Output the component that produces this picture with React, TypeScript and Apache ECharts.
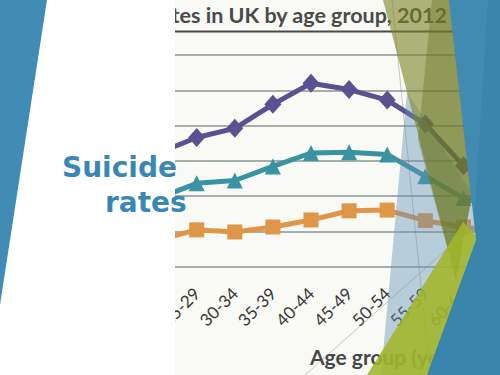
import React, { useEffect, useRef } from "react";
import * as echarts from "echarts";

const categories = ["20-24", "25-29", "30-34", "35-39", "40-44", "45-49", "50-54", "55-59", "60-64", "65-69", "70-74"];
const males = [16.1, 18.3, 19.6, 23.0, 26.0, 25.1, 23.6, 20.2, 14.3, 11.5, 11.0];
const persons = [9.7, 11.8, 12.2, 14.2, 16.1, 16.2, 15.9, 12.8, 9.7, 8.0, 7.5];
const females = [3.8, 5.2, 4.9, 5.6, 6.6, 7.9, 8.0, 6.5, 5.6, 4.8, 4.5];
const visibleLabelCount = 9;
const yMin = 0;
const yMax = 30;
const yStep = 5;
const slideTitle = ["Suicide", "rates"];
const chartTitle = "Suicide rates in UK by age group, 2012";
const xName = "Age group (years)";

export default function App() {
  const ref = useRef<HTMLDivElement>(null);
  useEffect(() => {
    if (!ref.current) return;
    const chart = echarts.init(ref.current, null, { renderer: "svg" });
    const lbl = "Lato, 'Open Sans', sans-serif";
    chart.setOption({
      animation: false,
      backgroundColor: "#ffffff",
      grid: { left: 158.6, top: 55, width: 381, height: 211.5, containLabel: false, outerBoundsMode: "none" },
      xAxis: {
        type: "category",
        data: categories,
        boundaryGap: false,
        axisLine: { show: false },
        axisTick: { show: false },
        axisLabel: {
          interval: 0,
          rotate: 45,
          margin: 24,
          fontSize: 17,
          fontFamily: lbl,
          color: "#383838",
          formatter: (v: string, i: number) => (i < visibleLabelCount ? v : ""),
        },
        splitLine: { show: false },
      },
      yAxis: {
        type: "value",
        min: yMin,
        max: yMax,
        interval: yStep,
        axisLine: { show: false },
        axisTick: { show: false },
        axisLabel: { show: false },
        splitLine: { lineStyle: { color: "#899690", width: 1.6 } },
      },
      series: [
        { type: "line", data: males, symbol: "diamond", symbolSize: [17, 19], itemStyle: { color: "#5a5192" }, lineStyle: { width: 5, color: "#5a5192" } },
        { type: "line", data: persons, symbol: "triangle", symbolSize: 16, itemStyle: { color: "#3a93a2" }, lineStyle: { width: 5, color: "#3a93a2" } },
        { type: "line", data: females, symbol: "rect", symbolSize: 15, itemStyle: { color: "#df9649" }, lineStyle: { width: 5, color: "#df9649" } },
      ],
      graphic: [
        { type: "rect", z: -10, shape: { x: 175, y: 0, width: 325, height: 375 }, style: { fill: "#f9f9f5" } },
        { type: "text", z: 5, style: { x: 447, y: 15, text: chartTitle, align: "right", verticalAlign: "middle", font: "bold 21.5px Lato, sans-serif", fill: "#4a4a4a" } },
        { type: "line", z: 5, shape: { x1: 175, y1: 31.5, x2: 495, y2: 31.5 }, style: { stroke: "#4a4a4a", lineWidth: 2 } },
        { type: "text", z: 5, style: { x: 310, y: 356, text: xName, align: "left", verticalAlign: "middle", font: "bold 21px Lato, sans-serif", fill: "#474747" } },
        { type: "line", z: 6, shape: { x1: 392, y1: 0, x2: 430, y2: 375 }, style: { stroke: "rgba(110,110,110,0.45)", lineWidth: 0.8 } },
        { type: "line", z: 6, shape: { x1: 305, y1: 375, x2: 482, y2: 218 }, style: { stroke: "rgba(110,110,110,0.45)", lineWidth: 0.8 } },
        { type: "rect", z: 10, shape: { x: 0, y: 0, width: 175, height: 375 }, style: { fill: "#ffffff" } },
        { type: "polygon", z: 11, shape: { points: [[0, 0], [47, 0], [0, 305]] }, style: { fill: "#408cb4" } },
        { type: "polygon", z: 20, shape: { points: [[407, 92], [381, 375], [427, 375], [476, 240], [470, 190]] }, style: { fill: "rgba(95,145,180,0.42)" } },
        { type: "polygon", z: 21, shape: { points: [[383, 0], [472, 0], [472, 195], [456, 280]] }, style: { fill: "rgba(122,132,36,0.6)" } },
        { type: "polygon", z: 22, shape: { points: [[432, 0], [472, 0], [472, 195], [456, 280], [418, 140]] }, style: { fill: "rgba(100,115,40,0.4)" } },
        { type: "polygon", z: 23, shape: { points: [[367, 375], [463, 222], [480, 240], [440, 375]] }, style: { fill: "rgba(160,182,40,0.88)" } },
        { type: "polygon", z: 24, shape: { points: [[449, 0], [500, 0], [500, 375], [427, 375], [476, 240]] }, style: { fill: "#3a85ab" } },
        { type: "polygon", z: 25, shape: { points: [[449, 0], [488, 0], [474, 225]] }, style: { fill: "rgba(80,150,185,0.35)" } },
        { type: "text", z: 30, style: { x: 62, y: 167, text: slideTitle[0], align: "left", verticalAlign: "middle", font: "bold 28px 'DejaVu Sans', sans-serif", fill: "#3a87b6" } },
        { type: "text", z: 30, style: { x: 105, y: 202, text: slideTitle[1], align: "left", verticalAlign: "middle", font: "bold 28px 'DejaVu Sans', sans-serif", fill: "#3a87b6" } },
      ],
    });
    return () => chart.dispose();
  }, []);
  return <div ref={ref} style={{ position: "fixed", left: 0, top: 0, width: 500, height: 375 }} />;
}
